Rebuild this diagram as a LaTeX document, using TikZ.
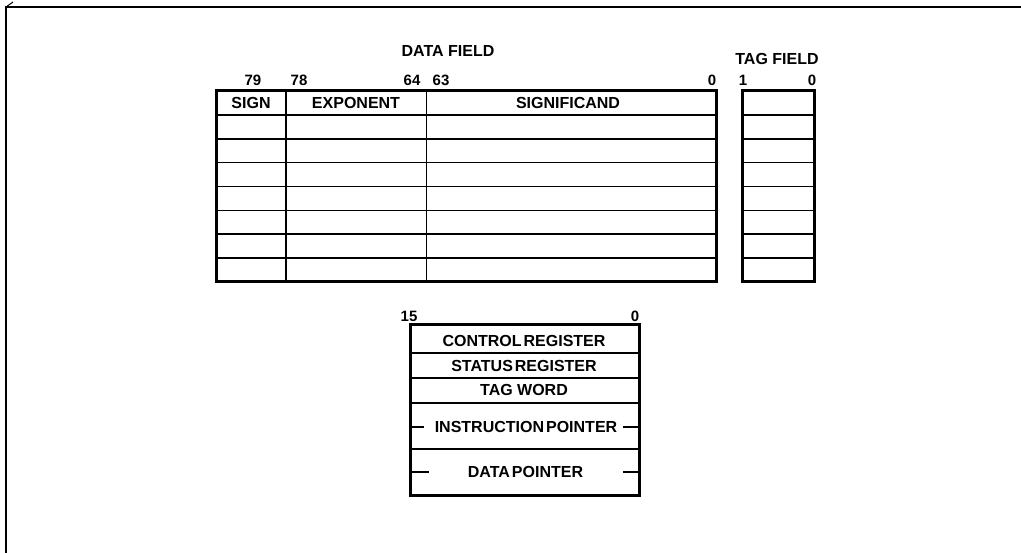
\documentclass[tikz,border=0pt]{standalone}
\usepackage{fontspec}
\setmainfont{Liberation Sans}
\begin{document}
\begin{tikzpicture}[x=1pt,y=-1pt,
  lbl/.style={inner sep=0pt,font=\fontsize{16}{19}\selectfont\bfseries},
  num/.style={inner sep=0pt,font=\fontsize{15}{18}\selectfont\bfseries},
  thin/.style={line width=1.6pt},
  thick/.style={line width=3pt},
  frame/.style={line width=2pt}]
\useasboundingbox (0,0) rectangle (1021,553);
% outer frame (top and left edges)
\coordinate (fTL) at (6,7);
\coordinate (fTR) at (1021,7);
\coordinate (fBL) at (6,553);
\coordinate (fTick) at (13,2);
\draw[frame] (fTR) -- (fTL) -- (fBL);
\draw[line width=1pt] (fTL) -- (fTick);
% titles
\node[lbl] (datafield) at (448,51) {DATA FIELD};
\node[lbl] (tagfield) at (777,59) {TAG FIELD};
% bit numbers
\node[num] (n79) at (253,80) {79};
\node[num] (n78) at (299,80) {78};
\node[num] (n64) at (412,80) {64};
\node[num] (n63) at (441,80) {63};
\node[num] (n0a) at (712,80) {0};
\node[num] (n1)  at (743,80) {1};
\node[num] (n0b) at (812,80) {0};
% data table
\foreach \i in {1,...,7}{
  \draw[thin] (216.5,{91+23.875*\i}) -- (716.5,{91+23.875*\i});
  \draw[thin] (742,{91+23.875*\i}) -- (814,{91+23.875*\i});
}
\draw[thin] (286,91) -- (286,282);
\draw[thin] (426.5,91) -- (426.5,282);
\draw[thick] (216.5,91) rectangle (716.5,282);
\draw[thick] (742,91) rectangle (814,282);
\node[lbl] (sign) at (251,103) {SIGN};
\node[lbl] (exponent) at (356,103) {EXPONENT};
\node[lbl] (signif) at (568,103) {SIGNIFICAND};
% control registers
\node[num] (n15) at (409,316) {15};
\node[num] (n0c) at (635,316) {0};
\foreach \y in {353,378,403,449}{
  \draw[thin] (410,\y) -- (639,\y);
}
\draw[thick] (410,325) rectangle (639,495);
\node[lbl] (ctrl) at (524,341) {CONTROL\kern2pt REGISTER};
\node[lbl] (stat) at (524,366) {STATUS\kern2pt REGISTER};
\node[lbl] (tagw) at (524,390) {TAG WORD};
\node[lbl] (ip) at (526,427) {INSTRUCTION\kern2pt POINTER};
\node[lbl] (dp) at (525.5,472) {DATA\kern2pt POINTER};
\coordinate (ipL1) at (410,427); \coordinate (ipL2) at (424,427);
\coordinate (ipR1) at (623,427); \coordinate (ipR2) at (639,427);
\coordinate (dpL1) at (410,472); \coordinate (dpL2) at (429,472);
\coordinate (dpR1) at (623,472); \coordinate (dpR2) at (639,472);
\draw[thin] (ipL1) -- (ipL2);
\draw[thin] (ipR1) -- (ipR2);
\draw[thin] (dpL1) -- (dpL2);
\draw[thin] (dpR1) -- (dpR2);
\end{tikzpicture}
\end{document}
